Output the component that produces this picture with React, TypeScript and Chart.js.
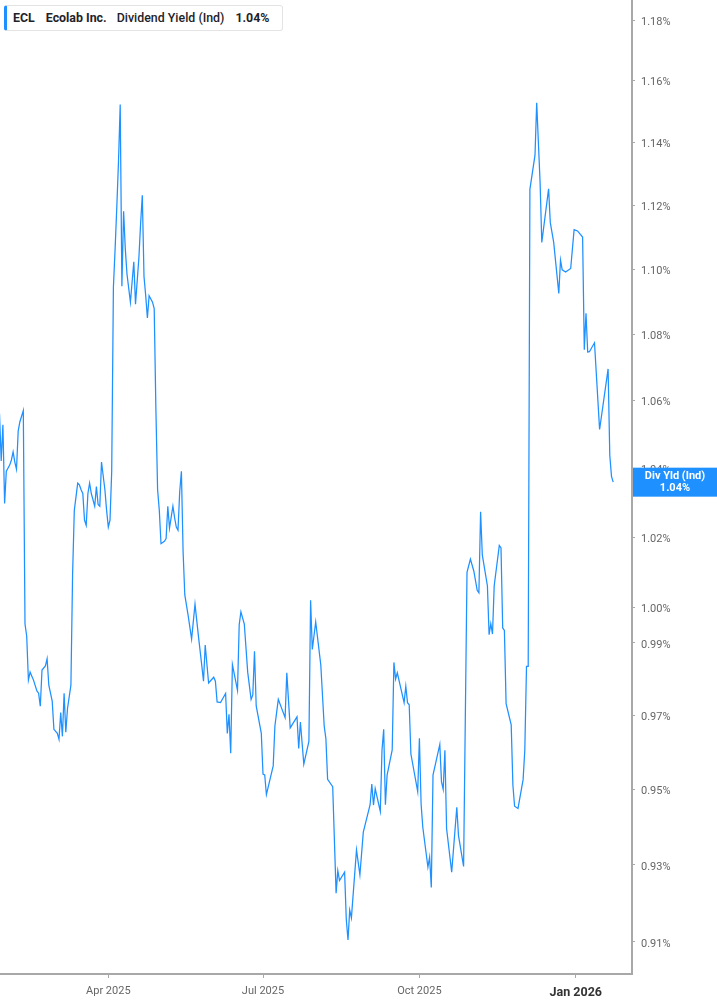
import { useEffect, useRef } from "react";
import { Chart, registerables } from "chart.js";

Chart.register(...registerables);

// day number counted from 1 Jan 2025 (Apr 1 = 90, Jan 1 2026 = 365)
const days = [
  26, 27, 28, 29, 30, 32, 33, 34, 35, 36, 37, 38, 40, 41, 42, 43, 44, 46, 48, 49,
  50, 51, 53, 54, 55, 57, 58, 60, 61, 62, 63, 64, 65, 66, 68, 69, 70, 72, 73, 74,
  75, 76, 77, 78, 79, 80, 82, 83, 84, 85, 86, 88, 89, 90, 91, 92, 93, 94, 95, 96,
  97, 98, 99, 100, 101, 103, 105, 106, 108, 109, 110, 111, 112, 113, 114, 116, 117, 118, 119, 120,
  121, 123, 124, 125, 126, 128, 129, 130, 131, 132, 133, 134, 135, 137, 139, 141, 143, 145, 146, 147,
  149, 152, 153, 154, 156, 159, 160, 161, 162, 163, 166, 167, 168, 170, 172, 174, 175, 176, 177, 180,
  181, 182, 183, 187, 188, 190, 194, 195, 197, 201, 202, 203, 205, 208, 209, 210, 212, 215, 217, 218,
  219, 222, 224, 225, 226, 229, 230, 231, 232, 233, 236, 238, 240, 244, 245, 246, 247, 250, 251, 252,
  253, 254, 257, 258, 259, 260, 264, 265, 266, 267, 268, 272, 273, 274, 275, 278, 279, 280, 281, 285,
  286, 287, 288, 289, 292, 295, 296, 299, 301, 303, 305, 307, 308, 309, 310, 313, 314, 315, 316, 317,
  320, 321, 322, 323, 324, 327, 328, 329, 331, 334, 335, 336, 337, 338, 341, 342, 344, 345, 349, 350,
  352, 355, 356, 357, 359, 362, 364, 366, 369, 370, 371, 372, 373, 376, 379, 384, 385, 386, 387,
];

// dividend yield (indicated), percent
const yields = [
  1.0561, 1.0421, 1.0528, 1.0297, 1.0391, 1.0409, 1.0424, 1.0448, 1.0418, 1.0397, 1.051, 1.0537, 1.057, 0.9953, 0.9919, 0.9797, 0.9819, 0.9797, 0.9767, 0.9761,
  0.9725, 0.9825, 0.9836, 0.9856, 0.9783, 0.9739, 0.9662, 0.9651, 0.9635, 0.9708, 0.9643, 0.9761, 0.9654, 0.9719, 0.9783, 1.0096, 1.0277, 1.0356, 1.0351, 1.0337,
  1.0326, 1.0249, 1.0234, 1.0326, 1.0356, 1.0326, 1.0289, 1.0346, 1.0294, 1.0289, 1.0418, 1.0337, 1.0277, 1.0229, 1.0249, 1.0391, 1.0944, 1.1063, 1.1194, 1.1339,
  1.1522, 1.0947, 1.1181, 1.1063, 1.0984, 1.0898, 1.1023, 1.0892, 1.1036, 1.1142, 1.1231, 1.0977, 1.0918, 1.085, 1.0918, 1.0898, 1.0878, 1.0573, 1.0337, 1.0277,
  1.0181, 1.0188, 1.0196, 1.0289, 1.0226, 1.0289, 1.0256, 1.0229, 1.022, 1.0331, 1.0391, 1.0157, 1.0035, 0.9976, 0.9911, 1.0009, 0.992, 0.9837, 0.9794, 0.9894,
  0.9789, 0.9805, 0.9794, 0.9737, 0.9735, 0.976, 0.9651, 0.9703, 0.9597, 0.984, 0.9769, 0.9951, 0.9987, 0.9953, 0.9819, 0.9744, 0.9756, 0.9877, 0.9726, 0.9651,
  0.9541, 0.9539, 0.9486, 0.9563, 0.9671, 0.9744, 0.9694, 0.9817, 0.9666, 0.9696, 0.961, 0.9682, 0.9568, 0.9629, 1.002, 0.9882, 0.9959, 0.9839, 0.9671, 0.9636,
  0.9527, 0.9507, 0.9226, 0.9285, 0.9259, 0.9281, 0.9158, 0.9105, 0.9182, 0.9162, 0.9339, 0.9274, 0.9386, 0.9459, 0.9514, 0.9458, 0.9502, 0.9441, 0.9606, 0.9662,
  0.9459, 0.9538, 0.9606, 0.9846, 0.98, 0.9817, 0.9735, 0.978, 0.9735, 0.9729, 0.9595, 0.9494, 0.9638, 0.9461, 0.9399, 0.9294, 0.932, 0.9241, 0.9538, 0.9621,
  0.952, 0.95, 0.9605, 0.9395, 0.9281, 0.9452, 0.9377, 0.9296, 1.0099, 1.0137, 1.0103, 1.0048, 1.0041, 1.0273, 1.0149, 1.0061, 0.9923, 0.9954, 0.9925, 1.0061,
  1.0176, 1.0169, 0.9942, 0.9935, 0.9732, 0.9674, 0.9511, 0.9455, 0.9449, 0.9526, 0.9605, 0.9835, 0.9835, 1.125, 1.1359, 1.1528, 1.1272, 1.1083, 1.1252, 1.1145,
  1.1083, 1.0925, 1.1028, 1.0998, 1.0991, 1.1002, 1.1123, 1.1119, 1.11, 1.0753, 1.0864, 1.0746, 1.0747, 1.0774, 1.0514, 1.0695, 1.0437, 1.0376, 1.0359,
];

const yTicks = [0.91, 0.93, 0.95, 0.97, 0.99, 1.0, 1.02, 1.04, 1.06, 1.08, 1.1, 1.12, 1.14, 1.16, 1.18];
const monthTicks = [90, 181, 273, 365];
const monthLabels = ["Apr 2025", "Jul 2025", "Oct 2025", "Jan 2026"];

const ticker = "ECL";
const company = "Ecolab Inc.";
const metric = "Dividend Yield (Ind)";
const shortMetric = "Div Yld (Ind)";

const BLUE = "#1e90ff";
const lastYield = yields[yields.length - 1];

// blue price tag on the right axis at the last value
const lastValueTag = {
  id: "lastValueTag",
  afterDraw(chart: any) {
    const { ctx, chartArea } = chart;
    const meta = chart.getDatasetMeta(0);
    const pt = meta.data[meta.data.length - 1];
    if (!pt) return;
    const x0 = chartArea.right + 1;
    const w = chart.width - x0;
    const h = 29;
    ctx.save();
    ctx.fillStyle = BLUE;
    ctx.fillRect(x0, pt.y - h / 2, w, h);
    ctx.fillStyle = "#fff";
    ctx.font = "bold 11px Roboto";
    ctx.textAlign = "center";
    ctx.textBaseline = "middle";
    ctx.fillText(shortMetric, x0 + w / 2, pt.y - 5.5);
    ctx.fillText(lastYield.toFixed(2) + "%", x0 + w / 2, pt.y + 6);
    ctx.restore();
  },
};

export default function App() {
  const canvasRef = useRef<HTMLCanvasElement>(null);
  const chartRef = useRef<Chart | null>(null);

  useEffect(() => {
    document.body.style.margin = "0";
    if (!canvasRef.current) return;
    chartRef.current?.destroy();

    chartRef.current = new Chart(canvasRef.current, {
      type: "line",
      data: {
        datasets: [
          {
            label: metric,
            data: days.map((d, i) => ({ x: d, y: yields[i] })),
            borderColor: BLUE,
            borderWidth: 1.25,
            pointRadius: 0,
            tension: 0,
            fill: false,
          },
        ],
      },
      options: {
        animation: false,
        responsive: false,
        layout: { padding: 0 },
        plugins: { legend: { display: false }, tooltip: { enabled: false } },
        scales: {
          x: {
            type: "linear",
            min: 26.29,
            max: 398.06,
            border: { display: true, color: "#a8a8a8", width: 2 },
            grid: { display: true, drawOnChartArea: false, drawTicks: true, tickLength: 4, color: "#a8a8a8" },
            afterBuildTicks: (scale: any) => {
              scale.ticks = monthTicks.map((v) => ({ value: v }));
            },
            afterFit: (scale: any) => {
              scale.height = 31;
              scale.paddingLeft = 0;
              scale.paddingRight = 0;
            },
            ticks: {
              autoSkip: false,
              maxRotation: 0,
              padding: 7,
              callback: (v: any) => monthLabels[monthTicks.indexOf(Number(v))] ?? "",
              color: (c: any) => (c.tick && c.tick.value === 365 ? "#333" : "#666"),
              font: (c: any) =>
                c.tick && c.tick.value === 365
                  ? { family: "Roboto", size: 12.5, weight: "bold" }
                  : { family: "Roboto", size: 11 },
            },
          },
          y: {
            type: "logarithmic",
            position: "right",
            min: 0.90183,
            max: 1.18667,
            border: { display: true, color: "#a8a8a8", width: 2 },
            grid: { display: true, drawOnChartArea: false, drawTicks: true, tickLength: 3, color: "#a8a8a8" },
            afterBuildTicks: (scale: any) => {
              scale.ticks = yTicks.map((v) => ({ value: v }));
            },
            afterFit: (scale: any) => {
              scale.width = 85;
              scale.paddingTop = 0;
              scale.paddingBottom = 0;
            },
            ticks: {
              padding: 6,
              labelOffset: 2,
              color: "#666",
              font: { family: "Roboto", size: 11 },
              callback: (v: any) => Number(v).toFixed(2) + "%",
            },
          },
        },
      },
      plugins: [lastValueTag],
    });

    return () => {
      chartRef.current?.destroy();
      chartRef.current = null;
    };
  }, []);

  return (
    <div style={{ position: "relative", width: 717, height: 1005, background: "#fff" }}>
      <canvas ref={canvasRef} width={717} height={1005} style={{ display: "block" }} />
      <div
        style={{
          position: "absolute",
          left: 4,
          top: 5,
          height: 24,
          lineHeight: "24px",
          padding: "0 12px 0 6px",
          background: "#fff",
          border: "1px solid #e4e4e4",
          borderLeft: `3px solid ${BLUE}`,
          borderRadius: 3,
          fontFamily: "Roboto, sans-serif",
          fontSize: 12.4,
          color: "#1f2329",
          whiteSpace: "nowrap",
        }}
      >
        <span style={{ fontWeight: 700, marginRight: 11 }}>{ticker}</span>
        <span style={{ fontWeight: 700, marginRight: 10 }}>{company}</span>
        <span style={{ fontWeight: 500, marginRight: 11 }}>{metric}</span>
        <span style={{ fontWeight: 700 }}>{lastYield.toFixed(2)}%</span>
      </div>
    </div>
  );
}
